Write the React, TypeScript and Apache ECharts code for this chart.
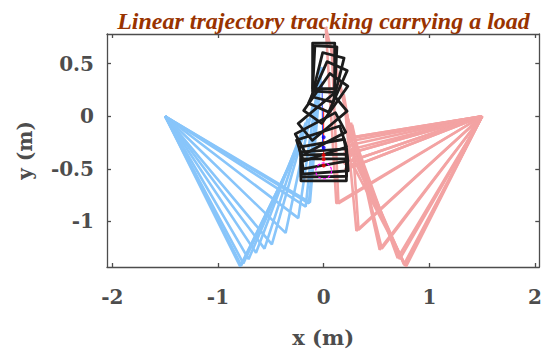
import React, { useEffect, useRef } from "react";
import * as echarts from "echarts";

const xTicks = [-2, -1, 0, 1, 2];
const yTicks = [-1, -0.5, 0, 0.5];

const blueBase = [-1.5, 0];
const pinkBase = [1.5, 0];

const blueElbowX = [-0.79, -0.78, -0.76, -0.71, -0.64, -0.56, -0.49, -0.36, -0.24, -0.17, -0.14, -0.13];
const blueElbowY = [-1.43, -1.42, -1.4, -1.36, -1.3, -1.26, -1.22, -1.11, -0.97, -0.86, -0.83, -0.82];
const blueEndX = [-0.25, -0.24, -0.23, -0.22, -0.2, -0.17, -0.15, -0.1, -0.06, -0.04, -0.03, -0.02];
const blueEndY = [-0.32, -0.3, -0.27, -0.21, -0.13, -0.06, -0.02, 0.12, 0.26, 0.38, 0.44, 0.47];

const pinkElbowX = [0.78, 0.77, 0.77, 0.76, 0.72, 0.7, 0.55, 0.53, 0.33, 0.31, 0.14, 0.12];
const pinkElbowY = [-1.43, -1.42, -1.42, -1.41, -1.36, -1.35, -1.26, -1.27, -1.08, -1.09, -0.83, -0.83];
const pinkEndX = [0.27, 0.28, 0.28, 0.28, 0.28, 0.28, 0.27, 0.27, 0.26, 0.19, 0.075, 0.02];
const pinkEndY = [-0.45, -0.4, -0.35, -0.3, -0.25, -0.18, -0.12, -0.08, -0.06, 0.21, 0.66, 0.85];
const pinkLinkX = [0.2, 0.2, 0.19, 0.19, 0.19, 0.19, 0.2, 0.22, 0.235, 0.26, 0.27, 0.27];
const pinkLinkY = [-0.51, -0.51, -0.45, -0.45, -0.37, -0.37, -0.33, -0.28, -0.24, -0.21, -0.2, -0.2];

const loadX = [0.0, 0.0, 0.01, 0.0, -0.02, -0.03, -0.01, 0.02, 0.04, 0.04, 0.01, 0.0];
const loadY = [-0.51, -0.47, -0.43, -0.36, -0.26, -0.16, -0.01, 0.17, 0.28, 0.37, 0.45, 0.48];
const loadAngle = [0, 1, 4, 10, 18, 28, 40, 55, 66, 76, 87, 90];
const loadSize = [0.43, 0.21];

const refTrajX = [-0.015, -0.01];
const refTrajY = [0.33, -0.31];
const actTrajX = [0.0, 0.0];
const actTrajY = [0.08, -0.38];
const redDotX = [0.0, 0.0, 0.0];
const redDotY = [-0.37, -0.41, -0.47];
const blueDotX = [0.0, 0.0];
const blueDotY = [-0.2, -0.3];
const targetCircle = [0.0, -0.52, 0.075];

const BLUE = "#88c5fa";
const PINK = "#f3a3a3";
const AXIS = "#4d4d4d";
const TICK_FONT = "'DejaVu Serif', serif";

export default function App() {
  const ref = useRef<HTMLDivElement>(null);
  useEffect(() => {
    if (!ref.current) return;
    const chart = echarts.init(ref.current, undefined, { renderer: "svg" });
    const series: any[] = [];
    blueElbowX.forEach((_, i) => {
      series.push({
        type: "line",
        data: [blueBase, [blueElbowX[i], blueElbowY[i]], [blueEndX[i], blueEndY[i]]],
        symbol: "none",
        lineStyle: { color: BLUE, width: 2.6 },
        z: 2,
      });
    });
    pinkElbowX.forEach((_, i) => {
      series.push({
        type: "line",
        clip: false,
        data: [
          pinkBase,
          [pinkElbowX[i], pinkElbowY[i]],
          [pinkEndX[i], pinkEndY[i]],
          [pinkLinkX[i], pinkLinkY[i]],
          pinkBase,
        ],
        symbol: "none",
        lineStyle: { color: PINK, width: 2.6 },
        z: 2,
      });
    });
    series.push({
      type: "line",
      data: refTrajX.map((x, i) => [x, refTrajY[i]]),
      symbol: "none",
      lineStyle: { color: "#1f3fff", width: 1 },
      z: 3,
    });
    series.push({
      type: "line",
      data: actTrajX.map((x, i) => [x, actTrajY[i]]),
      symbol: "none",
      lineStyle: { color: "#ff1010", width: 1 },
      z: 3,
    });
    series.push({
      type: "scatter",
      data: redDotX.map((x, i) => [x, redDotY[i]]),
      symbolSize: 4,
      itemStyle: { color: "#ff0000" },
      z: 6,
    });
    series.push({
      type: "scatter",
      data: blueDotX.map((x, i) => [x, blueDotY[i]]),
      symbolSize: 4,
      itemStyle: { color: "#0000ff" },
      z: 6,
    });
    series.push({
      type: "custom",
      data: [targetCircle],
      z: 6,
      renderItem: (_p: any, api: any) => {
        const c = api.coord([api.value(0), api.value(1)]);
        const r = api.size([api.value(2), 0])[0];
        return {
          type: "circle",
          shape: { cx: c[0], cy: c[1], r },
          style: { fill: "none", stroke: "#ff00ff", lineWidth: 1.2, lineDash: [3, 2] },
        };
      },
    });
    series.push({
      type: "custom",
      data: loadX.map((x, i) => [x, loadY[i], loadAngle[i]]),
      z: 5,
      renderItem: (_p: any, api: any) => {
        const c = api.coord([api.value(0), api.value(1)]);
        const s = api.size(loadSize);
        return {
          type: "rect",
          x: c[0],
          y: c[1],
          rotation: (api.value(2) * Math.PI) / 180,
          shape: { x: -s[0] / 2, y: -s[1] / 2, width: s[0], height: s[1] },
          style: { fill: "none", stroke: "#1c1c1c", lineWidth: 2.8, lineJoin: "round" },
        };
      },
    });

    const tickLabel = {
      fontFamily: TICK_FONT,
      fontWeight: "bold",
      fontSize: 20,
      color: AXIS,
    };
    const frameLine = { show: true, onZero: false, lineStyle: { color: AXIS, width: 1.3 } };
    chart.setOption({
      animation: false,
      grid: { left: 107, top: 34, width: 434, height: 236 },
      graphic: [
        {
          type: "text",
          x: 323.5,
          y: 21,
          style: {
            text: "Linear trajectory tracking carrying a load",
            fontFamily: "'Liberation Serif', serif",
            fontStyle: "italic",
            fontWeight: "bold",
            fontSize: 24,
            fill: "#993300",
            textAlign: "center",
            textVerticalAlign: "middle",
          },
        },
      ],
      xAxis: [
        {
          type: "value",
          min: -2.05,
          max: 2.04,
          position: "bottom",
          axisLine: frameLine,
          axisTick: { show: true, inside: true, length: 4, customValues: xTicks, lineStyle: { color: AXIS, width: 1.3 } },
          axisLabel: { ...tickLabel, margin: 20, customValues: xTicks },
          splitLine: { show: false },
          name: "x (m)",
          nameLocation: "middle",
          nameGap: 60,
          nameTextStyle: { ...tickLabel, fontSize: 21 },
        },
        {
          type: "value",
          min: -2.05,
          max: 2.04,
          position: "top",
          axisLine: frameLine,
          axisTick: { show: true, inside: true, length: 4, customValues: xTicks, lineStyle: { color: AXIS, width: 1.3 } },
          axisLabel: { show: false },
          splitLine: { show: false },
        },
      ],
      yAxis: [
        {
          type: "value",
          min: -1.435,
          max: 0.783,
          position: "left",
          axisLine: frameLine,
          axisTick: { show: true, inside: true, length: 4, customValues: yTicks, lineStyle: { color: AXIS, width: 1.3 } },
          axisLabel: { ...tickLabel, margin: 13, customValues: yTicks },
          splitLine: { show: false },
          name: "y (m)",
          nameLocation: "middle",
          nameGap: 72,
          nameRotate: 90,
          nameTextStyle: { ...tickLabel, fontSize: 20 },
        },
        {
          type: "value",
          min: -1.435,
          max: 0.783,
          position: "right",
          axisLine: frameLine,
          axisTick: { show: true, inside: true, length: 4, customValues: yTicks, lineStyle: { color: AXIS, width: 1.3 } },
          axisLabel: { show: false },
          splitLine: { show: false },
        },
      ],
      series,
    });
    return () => chart.dispose();
  }, []);
  return <div ref={ref} style={{ width: 545, height: 353, position: "absolute", left: 0, top: 0 }} />;
}
